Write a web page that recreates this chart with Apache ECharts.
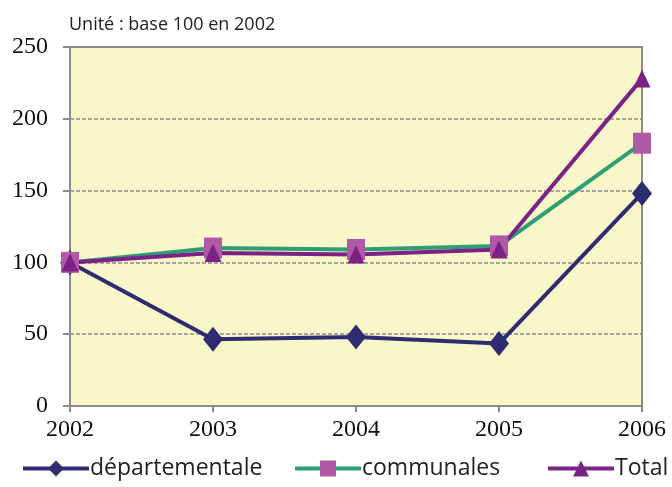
<!DOCTYPE html>
<html>
<head>
<meta charset="utf-8">
<script src="https://cdn.jsdelivr.net/npm/echarts@6/dist/echarts.min.js"></script>
<style>
html,body{margin:0;padding:0;background:#fff;}
#chart{width:672px;height:487px;}
</style>
</head>
<body>
<div id="chart"></div>
<script>
// valeurs (base 100 en 2002)
var years = ['2002', '2003', '2004', '2005', '2006'];
var departementale = [100, 46.5, 48, 43.5, 148];
var communales = [100, 110, 109, 111.5, 183];
var total = [100, 106.5, 105.5, 109, 228];
var yTicks = [0, 50, 100, 150, 200, 250];

var serif = '"Liberation Serif", "DejaVu Serif", serif';
var sans = '"Open Sans", Lato, sans-serif';

var myChart = echarts.init(document.getElementById('chart'));
myChart.setOption({
    animation: false,
    title: {
        text: 'Unité : base 100 en 2002',
        left: 64,
        top: 11,
        textStyle: {fontFamily: sans, fontSize: 18, fontWeight: 'normal', color: '#222'}
    },
    grid: {
        left: 70, right: 30, top: 47, bottom: 81,
        show: true,
        backgroundColor: '#f9f6c9',
        borderColor: '#8a8a8a',
        borderWidth: 2
    },
    legend: [
        {data: ['départementale'], left: 16, top: 452},
        {data: ['communales'], left: 288, top: 452},
        {data: ['Total'], left: 541, top: 452}
    ].map(function (l) {
        l.itemWidth = 66;
        l.itemHeight = 20;
        l.itemGap = 4;
        l.lineStyle = {width: 4};
        l.textStyle = {fontFamily: sans, fontSize: 23, color: '#222', padding: [0, 0, 0, -4]};
        return l;
    }),
    xAxis: {
        type: 'category',
        data: years,
        boundaryGap: false,
        axisLine: {lineStyle: {color: '#8a8a8a', width: 2}},
        axisTick: {show: true, length: 6, lineStyle: {color: '#8a8a8a', width: 2}},
        axisLabel: {fontFamily: serif, fontSize: 24, color: '#111', margin: 12}
    },
    yAxis: {
        type: 'value',
        min: yTicks[0],
        max: yTicks[yTicks.length - 1],
        interval: 50,
        axisLine: {show: true, lineStyle: {color: '#8a8a8a', width: 2}},
        axisTick: {show: true, length: 7, lineStyle: {color: '#8a8a8a', width: 2}},
        axisLabel: {fontFamily: serif, fontSize: 24, color: '#111', margin: 22},
        splitLine: {show: true, lineStyle: {color: '#8a8a8a', width: 1.5, type: [4, 2]}}
    },
    series: [
        {
            name: 'départementale',
            type: 'line',
            data: departementale,
            clip: false,
            symbol: 'diamond',
            symbolSize: [20, 25],
            lineStyle: {color: '#2f2b70', width: 4},
            itemStyle: {color: '#2f2b70'}
        },
        {
            name: 'communales',
            type: 'line',
            data: communales,
            clip: false,
            symbol: 'rect',
            symbolSize: [18, 21],
            lineStyle: {color: '#2e9e74', width: 4},
            itemStyle: {color: '#b05aa6'}
        },
        {
            name: 'Total',
            type: 'line',
            data: total,
            clip: false,
            symbol: 'triangle',
            symbolSize: [17, 18],
            lineStyle: {color: '#7b2287', width: 4},
            itemStyle: {color: '#7b2287'}
        }
    ]
});
</script>
</body>
</html>
